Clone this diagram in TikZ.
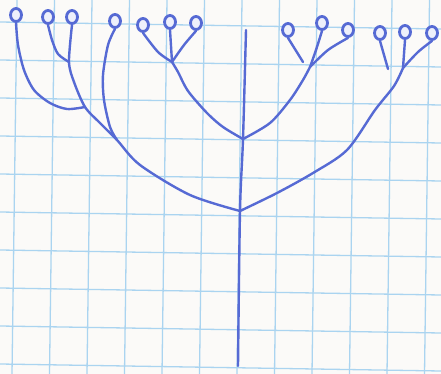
\documentclass[tikz,border=0pt]{standalone}
\usepackage{xcolor}
\usepackage{tikz}
\usetikzlibrary{shapes.geometric}

\definecolor{pen}{RGB}{86,106,212}
\definecolor{gridblue}{RGB}{170,212,240}
\definecolor{paper}{RGB}{251,250,248}

\begin{document}
\begin{tikzpicture}[
    x=1pt, y=-1pt,
    flower/.style={ellipse, draw=pen, fill=pen!10, line width=2.8pt, minimum width=11pt, minimum height=13pt, inner sep=0pt},
    stalk/.style={draw=pen, line width=2.4pt, line cap=round, line join=round},
    gridline/.style={draw=gridblue, line width=1.3pt},
  ]
  \fill[paper] (0,0) rectangle (441,374);
  \useasboundingbox (0,0) rectangle (441,374);

  % squared paper
  \foreach \k in {0,...,11}
    \draw[gridline] (17+37.5*\k,0) -- (12+37.5*\k,374);
  \foreach \k in {0,...,9}
    \draw[gridline] (0,22+38*\k) -- (441,29+38*\k);

  % flowers
  \node[flower] (fl1) at (16,15) {};
  \node[flower] (fl2) at (48,17) {};
  \node[flower] (fl3) at (72,17) {};
  \node[flower] (fl4) at (115,21) {};
  \node[flower] (fl5) at (143,25) {};
  \node[flower] (fl6) at (170,22) {};
  \node[flower] (fl7) at (196,23) {};
  \node[flower] (fl8) at (288,30) {};
  \node[flower] (fl9) at (322,23) {};
  \node[flower] (fl10) at (348,30) {};
  \node[flower] (fl11) at (380,33) {};
  \node[flower] (fl12) at (405,32) {};
  \node[flower] (fl13) at (432,33) {};

  % branching points
  \coordinate (base) at (238,366);
  \coordinate (fork) at (240,211);
  \coordinate (mid) at (243,139);
  \coordinate (top) at (246,30);
  \coordinate (leftj) at (69,62);
  \coordinate (leftk) at (85,107);
  \coordinate (leftm) at (117,140);
  \coordinate (umbl) at (172,62);
  \coordinate (umbr) at (310,67);
  \coordinate (umbf) at (403,68);
  \coordinate (end8) at (303,62);
  \coordinate (end11) at (388,69);

  % main stem
  \draw[stalk] plot[smooth] coordinates {(base) (fork) (mid) (top)};

  % left half
  \draw[stalk] plot[smooth] coordinates {(fork) (190,195) (140,165) (leftm) (100,123) (leftk) (74,82) (leftj) (fl3.south)};
  \draw[stalk] plot[smooth] coordinates {(fl2.south) (52,40) (58,54) (leftj)};
  \draw[stalk] plot[smooth] coordinates {(fl1.south) (18,45) (24,70) (34,90) (50,103) (67,109) (leftk)};
  \draw[stalk] plot[smooth] coordinates {(fl4.south) (108,45) (103,75) (104,100) (110,127) (leftm)};
  \draw[stalk] plot[smooth] coordinates {(fl5.south) (158,52) (umbl)};
  \draw[stalk] (fl6.south) -- (umbl);
  \draw[stalk] plot[smooth] coordinates {(fl7.south) (184,45) (umbl)};
  \draw[stalk] plot[smooth] coordinates {(umbl) (178,72) (188,91) (207,113) (223,127) (mid)};

  % right half
  \draw[stalk] plot[smooth] coordinates {(fork) (277,193) (313,173) (347,150) (375,110) (394,86) (umbf)};
  \draw[stalk] (fl11.south) -- (end11);
  \draw[stalk] (fl12.south) -- (umbf);
  \draw[stalk] plot[smooth] coordinates {(fl13.south) (418,52) (umbf)};
  \draw[stalk] plot[smooth] coordinates {(mid) (270,123) (290,100) (303,80) (umbr)};
  \draw[stalk] (fl8.south) -- (end8);
  \draw[stalk] plot[smooth] coordinates {(fl9.south) (316,50) (umbr)};
  \draw[stalk] plot[smooth] coordinates {(fl10.south) (328,50) (umbr)};
\end{tikzpicture}
\end{document}
